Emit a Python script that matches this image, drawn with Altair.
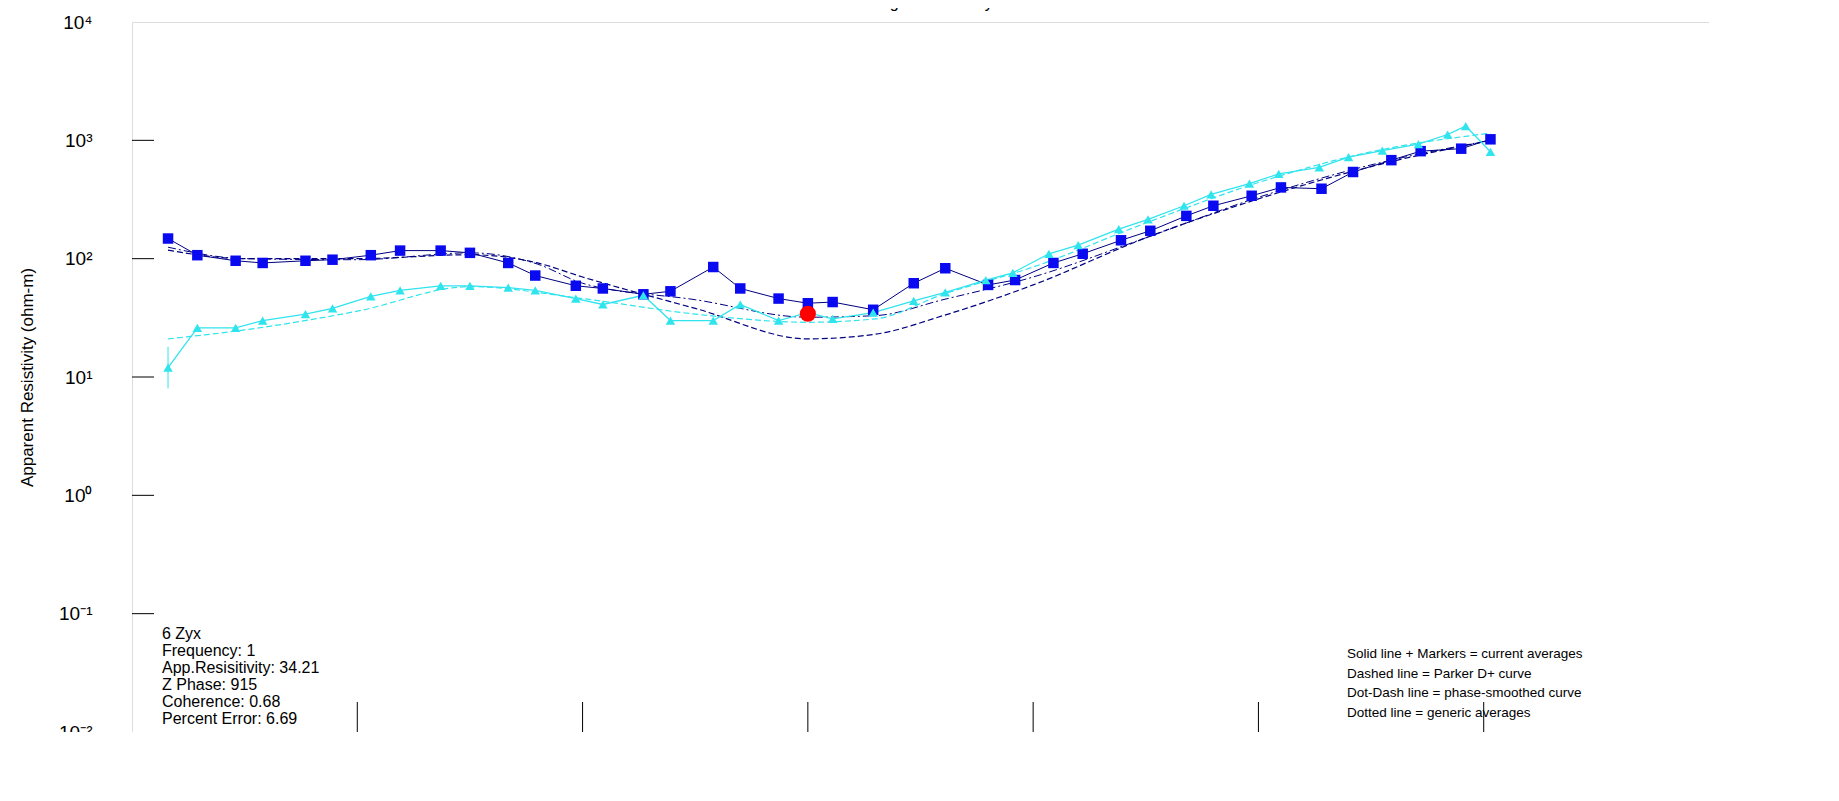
import altair as alt
import pandas as pd

# ---- data ----
blue_logf = [-2.84,-2.71,-2.54,-2.42,-2.23,-2.11,-1.94,-1.81,-1.63,-1.50,-1.33,-1.21,-1.03,-0.91,-0.73,-0.61,-0.42,-0.30,-0.13,0.00,0.11,0.29,0.47,0.61,0.80,0.92,1.09,1.22,1.39,1.52,1.68,1.80,1.97,2.10,2.28,2.42,2.59,2.72,2.90,3.03]
blue_rho = [148,107,96,92,96,98,107,117,117,112,92,72,59,56,50,53,85,56,46,42,43,37,62,83,60,66,92,110,143,172,230,280,340,400,390,540,680,810,850,1020]
cyan_logf = [-2.84,-2.71,-2.54,-2.42,-2.23,-2.11,-1.94,-1.81,-1.63,-1.50,-1.33,-1.21,-1.03,-0.91,-0.73,-0.61,-0.42,-0.30,-0.13,0.00,0.11,0.29,0.47,0.61,0.79,0.91,1.07,1.20,1.38,1.51,1.67,1.79,1.96,2.09,2.27,2.40,2.55,2.71,2.84,2.92,3.03]
cyan_rho = [12,26,26,30,34,38,48,54,59,59,57,54,46,41,49,30,30,41,30,35,31,35,44,52,66,76,110,130,178,215,280,350,430,520,590,720,820,930,1120,1320,800]
dash_logf = [-2.84,-2.5,-2.0,-1.5,-1.2,-1.0,-0.5,0.0,0.3,0.6,1.0,1.5,2.0,2.5,3.03]
dash_rho = [118,100,100,108,92,70,38,21,23,33,60,150,320,600,1000]
dd_logf = [-2.84,-2.5,-2.0,-1.5,-1.2,-1.0,-0.5,0.0,0.3,0.6,1.0,1.5,2.0,2.5,3.03]
dd_rho = [125,100,98,112,90,62,45,32,33,45,70,150,330,620,1000]
cdash_logf = [-2.84,-2.5,-2.0,-1.5,-1.0,-0.5,0.0,0.3,0.6,1.0,1.5,2.0,2.5,3.03]
cdash_rho = [21,25,36,58,46,34,29,31,50,85,200,440,800,1150]
red_f = [1.0]
red_rho = [34.21]
err_f = [10**-2.84]
err_lo = [8]
err_hi = [18]
decades_x = [1e-3,1e-2,1e-1,1e0,1e1,1e2,1e3,1e4]
decades_y = [1e-2,1e-1,1e0,1e1,1e2,1e3,1e4]
info_lines = ["6 Zyx", "Frequency:     1", "App.Resisitivity: 34.21", "Z Phase:        915",
              "Coherence:     0.68", "Percent Error: 6.69"]
legend_lines = ["Solid line + Markers = current averages", "Dashed line = Parker D+ curve",
                "Dot-Dash line = phase-smoothed curve", "Dotted line = generic averages"]

W, H = 1577, 710
FONT = "Liberation Sans"

bdf = pd.DataFrame({"f": [10**v for v in blue_logf], "r": blue_rho})
cdf = pd.DataFrame({"f": [10**v for v in cyan_logf], "r": cyan_rho})
ddf = pd.DataFrame({"f": [10**v for v in dash_logf], "r": dash_rho})
dddf = pd.DataFrame({"f": [10**v for v in dd_logf], "r": dd_rho})
cddf = pd.DataFrame({"f": [10**v for v in cdash_logf], "r": cdash_rho})

xs = alt.Scale(type="log", domain=[1e-3, 1e4], nice=False)
ys = alt.Scale(type="log", domain=[1e-2, 1e4], nice=False)

lab = ("'10' + replace(replace(replace(replace(replace(replace(replace(format(round(log(datum.value)/LN10), 'd'),"
       "'-','⁻'),'−','⁻'),'0','⁰'),'1','¹'),'2','²'),'3','³'),'4','⁴')")

X = alt.X("f:Q", scale=xs, axis=alt.Axis(values=decades_x, labelExpr=lab, title="Frequency (hertz)",
          grid=False, ticks=False, domain=False, labelFontSize=19, labelPadding=10, titleFontSize=17,
          titlePadding=24, labelFont=FONT, titleFont=FONT, titleFontWeight="normal", labelColor="black",
          labelFlush=False))
Y = alt.Y("r:Q", scale=ys, axis=alt.Axis(values=decades_y, labelExpr=lab, title="Apparent Resistivity (ohm-m)",
          grid=False, ticks=False, domain=False, labelFontSize=19, labelPadding=40, titleFontSize=17,
          titlePadding=22, labelFont=FONT, titleFont=FONT, titleFontWeight="normal", labelColor="black",
          labelFlush=False))

navy = "#000080"
blue = "#0a0af0"
cyan = "#30e4ee"

blue_line = alt.Chart(bdf).mark_line(color=navy, strokeWidth=1).encode(x=X, y=Y)
blue_pts = alt.Chart(bdf).mark_square(color=blue, size=110, opacity=1).encode(x="f:Q", y="r:Q")
cyan_line = alt.Chart(cdf).mark_line(color=cyan, strokeWidth=1.3).encode(x="f:Q", y="r:Q")
cyan_pts = alt.Chart(cdf).mark_point(shape="triangle-up", filled=True, color=cyan, size=90, opacity=1).encode(x="f:Q", y="r:Q")
dash = alt.Chart(ddf).mark_line(color=navy, strokeWidth=1.2, strokeDash=[6, 3], interpolate="monotone").encode(x="f:Q", y="r:Q")
dd = alt.Chart(dddf).mark_line(color=navy, strokeWidth=1, strokeDash=[8, 3, 2, 3], interpolate="monotone").encode(x="f:Q", y="r:Q")
cdash = alt.Chart(cddf).mark_line(color=cyan, strokeWidth=1.2, strokeDash=[6, 3], interpolate="monotone").encode(x="f:Q", y="r:Q")
err = alt.Chart(pd.DataFrame({"f": err_f, "r": err_lo, "hi": err_hi})).mark_rule(color=cyan).encode(
    x="f:Q", y="r:Q", y2="hi:Q")
red = alt.Chart(pd.DataFrame({"f": red_f, "r": red_rho})).mark_circle(color="#ff0000", size=260, opacity=1).encode(
    x="f:Q", y="r:Q")

yt = alt.Chart(pd.DataFrame({"r": decades_y[1:-1]})).mark_rule(color="black").encode(
    y="r:Q", x=alt.value(0), x2=alt.value(22))
xt = alt.Chart(pd.DataFrame({"f": decades_x[1:-1]})).mark_rule(color="black").encode(
    x="f:Q", y=alt.value(H), y2=alt.value(H - 30))

layers = [dash, dd, cdash, blue_line, cyan_line, err, blue_pts, cyan_pts, red, yt, xt]

for i, t in enumerate(info_lines):
    layers.append(alt.Chart(pd.DataFrame({"t": [t]})).mark_text(
        align="left", baseline="middle", font=FONT, fontSize=16, color="black").encode(
        text="t:N", x=alt.value(30), y=alt.value(612 + i * 17)))

for i, t in enumerate(legend_lines):
    layers.append(alt.Chart(pd.DataFrame({"t": [t]})).mark_text(
        align="left", baseline="middle", font=FONT, fontSize=13.5, color="black").encode(
        text="t:N", x=alt.value(1215), y=alt.value(632 + i * 19.5)))

layers.append(alt.Chart(pd.DataFrame({"a": [0]})).mark_rule(color="#8080c0").encode(
    x=alt.value(-120), x2=alt.value(-92), y=alt.value(H + 40)))
layers.append(alt.Chart(pd.DataFrame({"t": ["6 Zxy"]})).mark_text(
    align="left", baseline="middle", font=FONT, fontSize=15, color="#000090").encode(
    text="t:N", x=alt.value(-88), y=alt.value(H + 40)))

chart = alt.layer(*layers).properties(
    width=W, height=H,
    title=alt.TitleParams("Averaged Resistivity", font=FONT, fontSize=16, fontWeight="normal", offset=2),
    autosize=alt.AutoSizeParams(type="none"),
    padding={"left": 124, "top": 14, "right": 0, "bottom": 0},
).configure_view(stroke="black", strokeWidth=1.2).configure(background="white")

chart.save("out.html", embed_options={"renderer": "svg", "actions": False})
